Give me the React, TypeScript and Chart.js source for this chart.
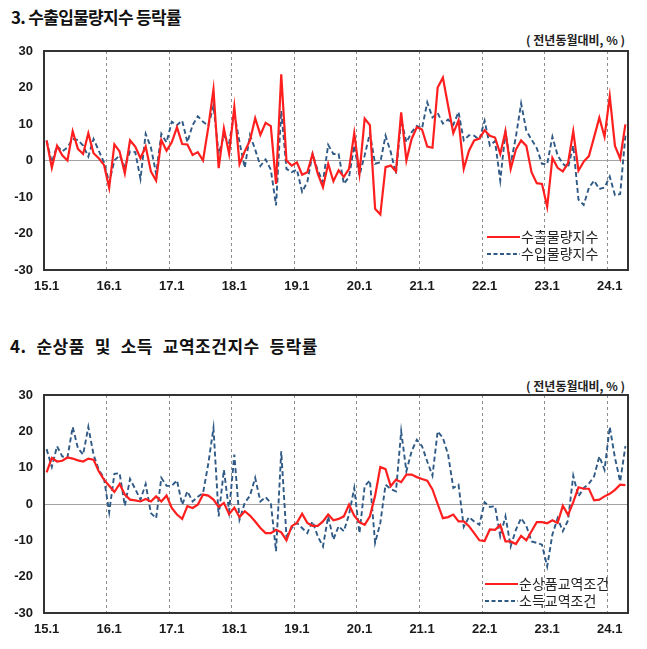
import React, { useEffect, useRef } from 'react';
import { Chart, registerables } from 'chart.js';
Chart.register(...registerables);

// ---- data ----
const startYear = 15;
const monthCount = 112; // 2015.1 .. 2024.4
const categories: string[] = [];
for (let i = 0; i < monthCount; i++) {
  categories.push(`${startYear + Math.floor(i / 12)}.${(i % 12) + 1}`);
}
const yTicks = [-30, -20, -10, 0, 10, 20, 30];

// 수출물량지수
const exportVolume = [
  5.5, -2, 4, 1.4, 0, 8, 3.2, 1.8, 7.5, 2, 0.6, -1.2,
  -7.5, 4.4, 2.5, -3.5, 5.5, 3.8, 0.6, 3.8, -3, -5.5, 5.6, 2.7,
  5, 9.1, 4.5, 4.4, 1.5, 2.3, 0, 9, 19.5, -2.1, 8.8, 1.8,
  14.7, -1, 2.5, 5.5, 11.6, 7, 10.3, 9.4, -6.4, 23.6, 0, -1.4,
  -0.5, -3.9, -3.2, 1.8, -3.6, -7.3, -0.9, -5.7, -2.7, -4.5, -2.3, 7.5,
  -3.6, 11.5, 9.7, -13.2, -14.8, -1.8, -1.4, -3, 13.2, 0, 5.9, 9.1,
  8.5, 3.8, 3.5, 20, 22.7, 15, 7.5, 11, -2.3, 2.7, 5.5, 6,
  8.3, 6.8, 6.3, 1.8, 8, -2.3, 3, 5.5, 4, -3.2, -6.2, -6.4,
  -12.7, 0.7, -2, -3, -0.7, 8, -2.8, -0.3, 1.2, 6.4, 11.7, 6.5,
  17.6, 4, 0.5, 9.9,
];
// 수입물량지수
const importVolume = [
  5.5, -0.5, 4, 2.5, 3.6, 5.9, 5.6, 4.1, 1.1, 5.9, 2.7, -0.5,
  -6, 0, 1.4, -1.8, 2.5, 2.3, -5, 7.3, 3.6, -3.6, 7.3, 5,
  10.6, 9.7, 10.9, 5, 9.7, 12.1, 10.6, 9.5, 15, 1.8, 6.8, 4.8,
  13, 5, -2, 7, 3, -1.5, 0.3, -2.5, -12.3, 13.6, -2.3, -3.2,
  -2.5, -8.6, -5.9, 1.8, -2.7, -5.9, 4.3, 1.8, 1.8, -6.4, -4.5, 4.1,
  -4.1, 1.4, 7.5, -0.9, -0.5, 6.8, 2.3, -3.6, 11.2, 5, 7.7, 9.5,
  8.8, 15.9, 11.8, 13, 10.1, 11.2, 9.8, 13.3, 5.5, 6.9, 6.8, 5.7,
  10.9, 4.1, 5.3, -5.5, 7.8, -0.9, 6.5, 15.6, 8.2, 5.7, 3.4, -0.9,
  -1, 6.5, 1.4, -0.9, -2, 4.1, -10.7, -12.2, -7.5, -5.5, -7.8, -7.4,
  -4.4, -9.5, -9.2, 6.8,
];
// 순상품교역조건
const netTermsOfTrade = [
  8.7, 12.7, 11.7, 11.9, 12.8, 12.5, 12, 11.7, 12.5, 12.2, 9, 6.7,
  5, 3.3, 5.5, 2.6, 1.2, 1, 0.7, 1.4, 0.7, 2.1, 0.7, 2.3,
  -1.1, -2.9, -4.1, -0.6, -1.1, -0.2, 2.6, 2.3, 1.2, -0.8, 0.3, -2.8,
  -1, -3.6, -2, -3.2, -4.8, -6.6, -8, -8, -7.1, -7.8, -10, -6.1,
  -5.2, -2.7, -5.2, -6, -6, -4.8, -2.9, -4.5, -4.1, -3.4, -0.2, -3.2,
  -5, -5.7, -3.4, 2.3, 10.2, 9.6, 4.9, 6.7, 6, 8.1, 8.1, 7.4,
  6.9, 6.4, 4, 0, -3.9, -3.6, -2.9, -4.8, -4.8, -6.1, -8, -10,
  -10.2, -7, -7.1, -5.8, -10.3, -10.3, -11, -8.8, -10, -7.5, -5, -5,
  -5.3, -4.5, -5.2, -0.5, -3, 0.5, 4.6, 4.2, 4.2, 1, 1.2, 2.1,
  2.8, 3.9, 5.3, 5.2,
];
// 소득교역조건
const incomeTermsOfTrade = [
  15.1, 10.2, 15.9, 13.1, 12.8, 21.2, 15.4, 13.6, 21.2, 13.6, 9.4, 7.2,
  -2.3, 8.3, 8.5, -0.5, 6.9, 4.1, 1.2, 5.5, -2.5, -3.9, 7.2, 5,
  5, 6.5, -0.2, 3.5, 0.7, 2, 3, 11, 20.9, -3.4, 9.4, -2,
  13.6, -4.3, 0.3, 2.3, 7.2, 0.7, 1.9, 0.3, -13, 14.5, -8.9, -6.6,
  -5.2, -6.6, -8, -4.8, -8.9, -11.7, -3.4, -9.8, -6.1, -7.5, -2.9, 4.4,
  -8, 4.9, 6.5, -10.7, -5.2, 5.3, 4.1, 3.5, 20, 9, 14.5, 17.7,
  15.9, 11.7, 7.8, 20, 18.2, 13.6, 4.4, 5.3, -6.3, -3.6, -4.8, -5.7,
  0.5, -0.8, -0.6, -8.9, -3.4, -11.7, -7.1, -3.9, -6, -10.3, -10.7, -11.2,
  -17.2, -8.4, -3.9, -7.5, -4.5, 7.8, 2.1, 4.4, 5.6, 7.6, 13.1, 9.4,
  21.2, 12.7, 6.2, 15.9,
];

const RED = '#ff1f1f';
const BLUE = '#2f5a86';
const CJK = "'Noto Sans CJK KR', 'Noto Sans', sans-serif";
const TICKFONT = "'Liberation Sans', Arial, sans-serif";

type Series = { label: string; data: number[]; color: string; dashed: boolean };

const framePlugin = {
  id: 'frame',
  afterDraw(chart: any) {
    const { ctx, chartArea } = chart;
    ctx.save();
    ctx.strokeStyle = '#333333';
    ctx.lineWidth = 2;
    ctx.strokeRect(chartArea.left, chartArea.top, chartArea.right - chartArea.left, chartArea.bottom - chartArea.top);
    ctx.restore();
  },
};

function LineChart(props: { top: number; height: number; padTop: number; axisH: number; series: Series[] }) {
  const ref = useRef<HTMLCanvasElement>(null);
  useEffect(() => {
    const chart = new Chart(ref.current!, {
      type: 'line',
      data: {
        labels: categories,
        datasets: props.series.map((s) => ({
          label: s.label,
          data: s.data,
          borderColor: s.color,
          backgroundColor: s.color,
          borderWidth: s.dashed ? 1.9 : 2.2,
          borderDash: s.dashed ? [5, 3] : [],
          pointRadius: 0,
          tension: 0,
          fill: false,
        })),
      },
      options: {
        animation: false,
        responsive: false,
        maintainAspectRatio: false,
        layout: { padding: { top: props.padTop, right: 19, bottom: 0, left: 0 } },
        plugins: { legend: { display: false }, tooltip: { enabled: false } },
        scales: {
          x: {
            type: 'category',
            offset: true,
            grid: {
              offset: true,
              drawTicks: false,
              lineWidth: 1,
              color: (c: any) =>
                typeof c.index === 'number' && c.index > 0 && c.index % 12 === 0 ? '#8c8c8c' : 'rgba(0,0,0,0)',
            },
            border: { display: false, dash: [3, 3] },
            ticks: {
              autoSkip: false,
              maxRotation: 0,
              minRotation: 0,
              padding: 9,
              color: '#1a1a1a',
              font: { family: TICKFONT, size: 13, weight: 'bold' },
              callback: (_v: any, i: number) => (i % 12 === 0 ? categories[i] : ''),
            },
            afterFit: (s: any) => {
              s.height = props.axisH;
            },
          },
          y: {
            min: yTicks[0],
            max: yTicks[yTicks.length - 1],
            afterBuildTicks: (s: any) => {
              s.ticks = yTicks.map((v) => ({ value: v }));
            },
            grid: {
              drawTicks: false,
              lineWidth: 1,
              color: (c: any) => (c.tick && c.tick.value === 0 ? '#a3a3a3' : 'rgba(0,0,0,0)'),
            },
            border: { display: false },
            ticks: {
              padding: 11,
              color: '#1a1a1a',
              font: { family: TICKFONT, size: 13, weight: 'bold' },
            },
            afterFit: (s: any) => {
              s.width = 44;
            },
          },
        },
      } as any,
      plugins: [framePlugin],
    });
    return () => chart.destroy();
  }, []);
  return (
    <canvas
      ref={ref}
      width={647}
      height={props.height}
      style={{ position: 'absolute', left: 0, top: props.top, width: 647, height: props.height }}
    />
  );
}

function Legend(props: { top: number; left: number; series: Series[] }) {
  return (
    <div style={{ position: 'absolute', left: props.left, top: props.top }}>
      {props.series.map((s) => (
        <div key={s.label} style={{ display: 'flex', alignItems: 'center', height: 17 }}>
          <svg width={33} height={6} style={{ display: 'block' }}>
            <line
              x1={0}
              y1={3}
              x2={33}
              y2={3}
              stroke={s.color}
              strokeWidth={2}
              strokeDasharray={s.dashed ? '4 2.5' : undefined}
            />
          </svg>
          <span style={{ fontFamily: CJK, fontSize: 14, color: '#222', marginLeft: 1, lineHeight: '17px' }}>{s.label}</span>
        </div>
      ))}
    </div>
  );
}

const series1: Series[] = [
  { label: '수출물량지수', data: exportVolume, color: RED, dashed: false },
  { label: '수입물량지수', data: importVolume, color: BLUE, dashed: true },
];
const series2: Series[] = [
  { label: '순상품교역조건', data: netTermsOfTrade, color: RED, dashed: false },
  { label: '소득교역조건', data: incomeTermsOfTrade, color: BLUE, dashed: true },
];

export default function App() {
  const unitStyle: React.CSSProperties = {
    position: 'absolute',
    right: 22,
    fontFamily: CJK,
    fontSize: 12,
    fontWeight: 700,
    color: '#222',
    lineHeight: '14px',
    whiteSpace: 'pre',
  };
  return (
    <div style={{ position: 'absolute', left: 0, top: 0, width: 647, height: 649, background: '#fff', overflow: 'hidden' }}>
      <div
        style={{
          position: 'absolute',
          left: 11,
          top: 6,
          fontFamily: CJK,
          fontSize: 17,
          fontWeight: 700,
          color: '#111',
          lineHeight: '22px',
          letterSpacing: -0.7,
          whiteSpace: 'pre',
        }}
      >
        3. 수출입물량지수 등락률
      </div>
      <div style={{ ...unitStyle, top: 33 }}>( 전년동월대비, % )</div>
      <LineChart top={30} height={270} padTop={21} axisH={30} series={series1} />
      <Legend top={228} left={487} series={series1} />

      <div
        style={{
          position: 'absolute',
          left: 10,
          top: 335,
          fontFamily: CJK,
          fontSize: 17,
          fontWeight: 700,
          color: '#111',
          lineHeight: '22px',
          letterSpacing: 0.5,
          wordSpacing: 5.5,
          whiteSpace: 'pre',
        }}
      >
        4. 순상품 및 소득 교역조건지수 등락률
      </div>
      <div style={{ ...unitStyle, top: 379 }}>( 전년동월대비, % )</div>
      <LineChart top={370} height={270} padTop={25} axisH={27} series={series2} />
      <Legend top={575} left={485} series={series2} />
    </div>
  );
}
